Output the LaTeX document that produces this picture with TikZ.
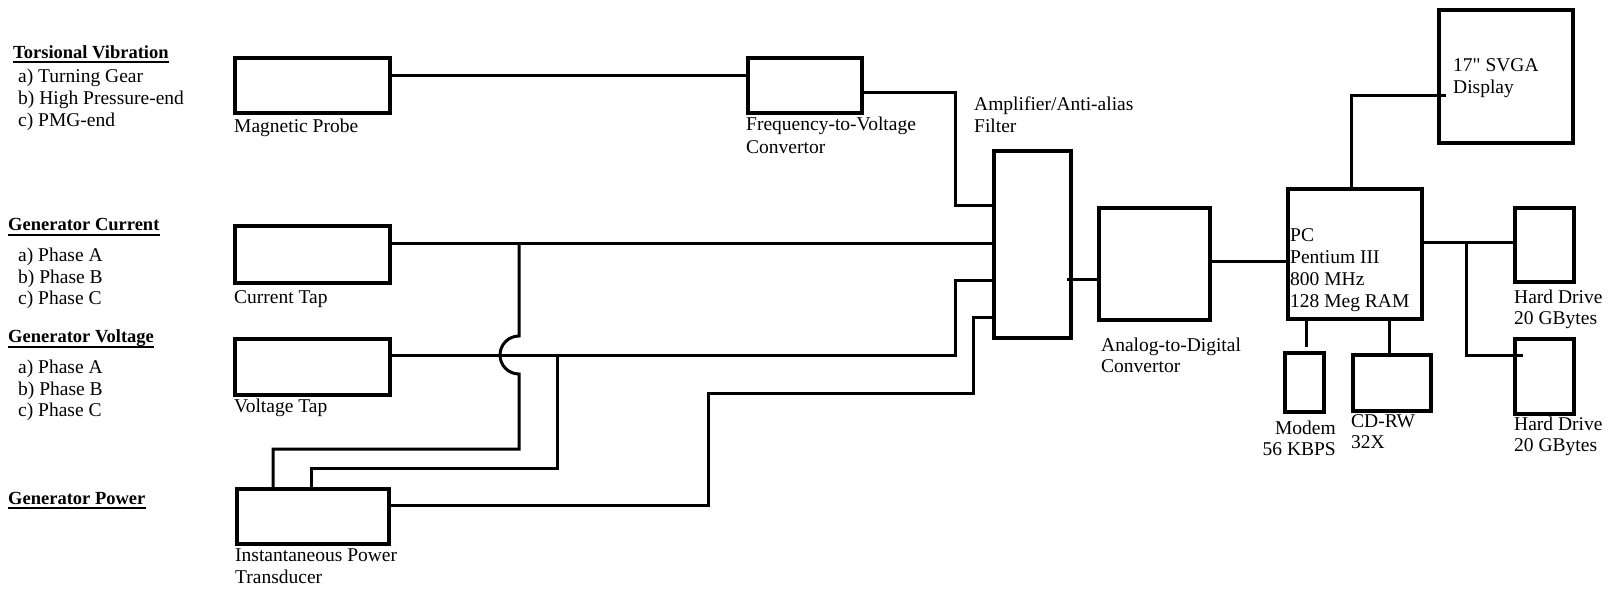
\documentclass[tikz,border=0pt]{standalone}
\usepackage{fontspec}
\setmainfont{Liberation Serif}
\usetikzlibrary{calc}
\begin{document}
\begin{tikzpicture}[x=1pt,y=-1pt,
  box/.style={draw,line width=4.2pt,anchor=north west,inner sep=0pt,minimum width=#1},
  wire/.style={line width=3pt},
  lbl/.style={inner sep=0pt,anchor=north west,align=left,font=\fontsize{19.5}{22}\selectfont,execute at begin node=\strut},
  hd/.style={inner sep=0pt,anchor=base west,font=\fontsize{18.5}{22}\selectfont\bfseries},
  uline/.style={line width=2pt}]
\useasboundingbox (0,0) rectangle (1621,590);

% headings
\node[hd] (h1) at (13,58.3) {Torsional Vibration};
\node[hd] (h2) at (8,230.7) {Generator Current};
\node[hd] (h3) at (8,342.7) {Generator Voltage};
\node[hd] (h4) at (8,504.3) {Generator Power};
\foreach \h in {h1,h2,h3,h4}
  \draw[uline] ($(\h.base west)+(0,4)$) -- ($(\h.base east)+(0,4)$);

% lists
\node[lbl,font=\fontsize{19.5}{22.2}\selectfont] (l1) at (18,68.5) {a) Turning Gear\\b) High Pressure-end\\c) PMG-end};
\node[lbl,font=\fontsize{19.5}{21.8}\selectfont] (l2) at (18,247.5) {a) Phase A\\b) Phase B\\c) Phase C};
\node[lbl,font=\fontsize{19.5}{21.8}\selectfont] (l3) at (18,359.5) {a) Phase A\\b) Phase B\\c) Phase C};

% boxes
\node[box=155pt,minimum height=55pt] (mp) at (233,56) {};
\node[box=114pt,minimum height=55pt] (fv) at (746,56) {};
\node[box=77pt,minimum height=187pt] (aaf) at (992,149) {};
\node[box=111pt,minimum height=112pt] (adc) at (1097,206) {};
\node[box=134pt,minimum height=130pt] (pc) at (1286,187) {};
\node[box=134pt,minimum height=133pt] (disp) at (1437,8) {};
\node[box=59pt,minimum height=74pt] (hd1) at (1513,206) {};
\node[box=59pt,minimum height=75pt] (hd2) at (1513,337) {};
\node[box=39pt,minimum height=59pt] (modem) at (1283,351) {};
\node[box=78pt,minimum height=56pt] (cd) at (1351,353) {};
\node[box=155pt,minimum height=57pt] (ct) at (233,224) {};
\node[box=155pt,minimum height=56pt] (vt) at (233,337) {};
\node[box=152pt,minimum height=55pt] (ip) at (235,487) {};

% labels
\node[lbl] (mpl) at (234,117) {Magnetic Probe};
\node[lbl,font=\fontsize{19.5}{23}\selectfont] (fvl) at (746,116.5) {Frequency-to-Voltage\\Convertor};
\node[lbl] (aafl) at (974,97) {Amplifier/Anti-alias\\Filter};
\node[lbl] (ctl) at (234,288) {Current Tap};
\node[lbl] (vtl) at (234,397) {Voltage Tap};
\node[lbl,font=\fontsize{19.5}{21.6}\selectfont] (ipl) at (235,549) {Instantaneous Power\\Transducer};
\node[lbl,font=\fontsize{19.5}{21.6}\selectfont] (adcl) at (1101,337.5) {Analog-to-Digital\\Convertor};
\node[lbl] (displ) at (1453,58) {17\textquotedbl{} SVGA\\Display};
\node[lbl,font=\fontsize{19.5}{21.9}\selectfont] (pcl) at (1290,228.5) {PC\\Pentium III\\800 MHz\\128 Meg RAM};
\node[lbl,font=\fontsize{19.5}{20.5}\selectfont] (hd1l) at (1514,290) {Hard Drive\\20 GBytes};
\node[lbl,font=\fontsize{19.5}{21}\selectfont] (hd2l) at (1514,417) {Hard Drive\\20 GBytes};
\node[lbl,anchor=north east,align=right,font=\fontsize{19.5}{21}\selectfont] (modeml) at (1336,421) {Modem\\56 KBPS};
\node[lbl,font=\fontsize{19.5}{21.6}\selectfont] (cdl) at (1351,414) {CD-RW\\32X};

% junction coordinates
\coordinate (jc) at (519,243);
\coordinate (jv) at (557,355);
\coordinate (jh) at (1466,242);

% connectors
\draw[wire] (mp.east |- 0,75) -- (fv.west |- 0,75);
\draw[wire] (fv.east |- 0,92) -| (955,205) -- (aaf.west |- 0,205);
\draw[wire] (ct.east |- 0,243) -- (aaf.west |- 0,243);
\draw[wire] (vt.east |- 0,355) -- (955,355) |- (aaf.west |- 0,280);
\draw[wire] (ip.east |- 0,505) -| (708,393) -| (973,317) -- (aaf.west |- 0,317);
\draw[wire] (jc) -- (519,336) arc[start angle=90,end angle=270,radius=19pt] -- (519,449) -| (ip.north -| 273,0);
\draw[wire] (jv) -- (557,468) -| (ip.north -| 311,0);
\draw[wire] ($(aaf.east |- 0,279)+(-6,0)$) -- (adc.west |- 0,279);
\draw[wire] (adc.east |- 0,261) -- (pc.west |- 0,261);
\draw[wire] (pc.north -| 1351,0) |- ($(disp.west |- 0,95)+(9,0)$);
\draw[wire] (pc.east |- 0,242) -- (hd1.west |- 0,242);
\draw[wire] (jh) |- ($(hd2.west |- 0,355)+(10,0)$);
\draw[wire] (pc.south -| 1306,0) -- ($(modem.north -| 1306,0)+(0,-4)$);
\draw[wire] (pc.south -| 1389,0) -- (cd.north -| 1389,0);
\end{tikzpicture}
\end{document}
